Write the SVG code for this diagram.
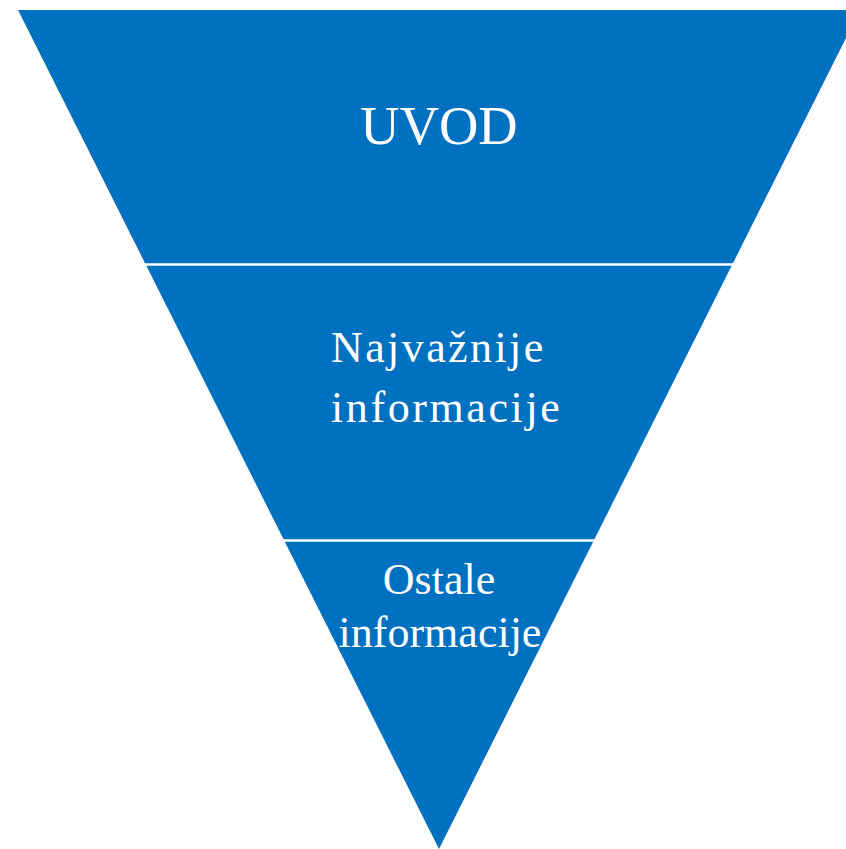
<svg xmlns="http://www.w3.org/2000/svg" width="846" height="849" viewBox="0 0 846 849">
<style>
.seg{fill:#0070C0}
.div{stroke:#FFFFFF;stroke-width:2.5}
.t{font-family:"Liberation Serif","Times New Roman",serif;fill:#FFFFFF}
</style>
<rect width="846" height="849" fill="#FFFFFF"/>
<g id="pyramid">
<polygon class="seg" points="18,10 860,10 439,849"/>
</g>
<g id="connectors">
<line class="div" x1="140" y1="264.5" x2="740" y2="264.5"/>
<line class="div" x1="278" y1="540.5" x2="602" y2="540.5"/>
</g>
<g id="uvod">
<text class="t" x="439" y="144" font-size="54.5" text-anchor="middle">UVOD</text>
</g>
<g id="najvaznije">
<text class="t" x="331" y="361.5" font-size="44" letter-spacing="2.4">Najvažnije</text>
<text class="t" x="331" y="421.5" font-size="44" letter-spacing="2.6">informacije</text>
</g>
<g id="ostale">
<text class="t" x="439" y="594" font-size="44" text-anchor="middle">Ostale</text>
<text class="t" x="440" y="646.5" font-size="44" text-anchor="middle">informacije</text>
</g>
</svg>
